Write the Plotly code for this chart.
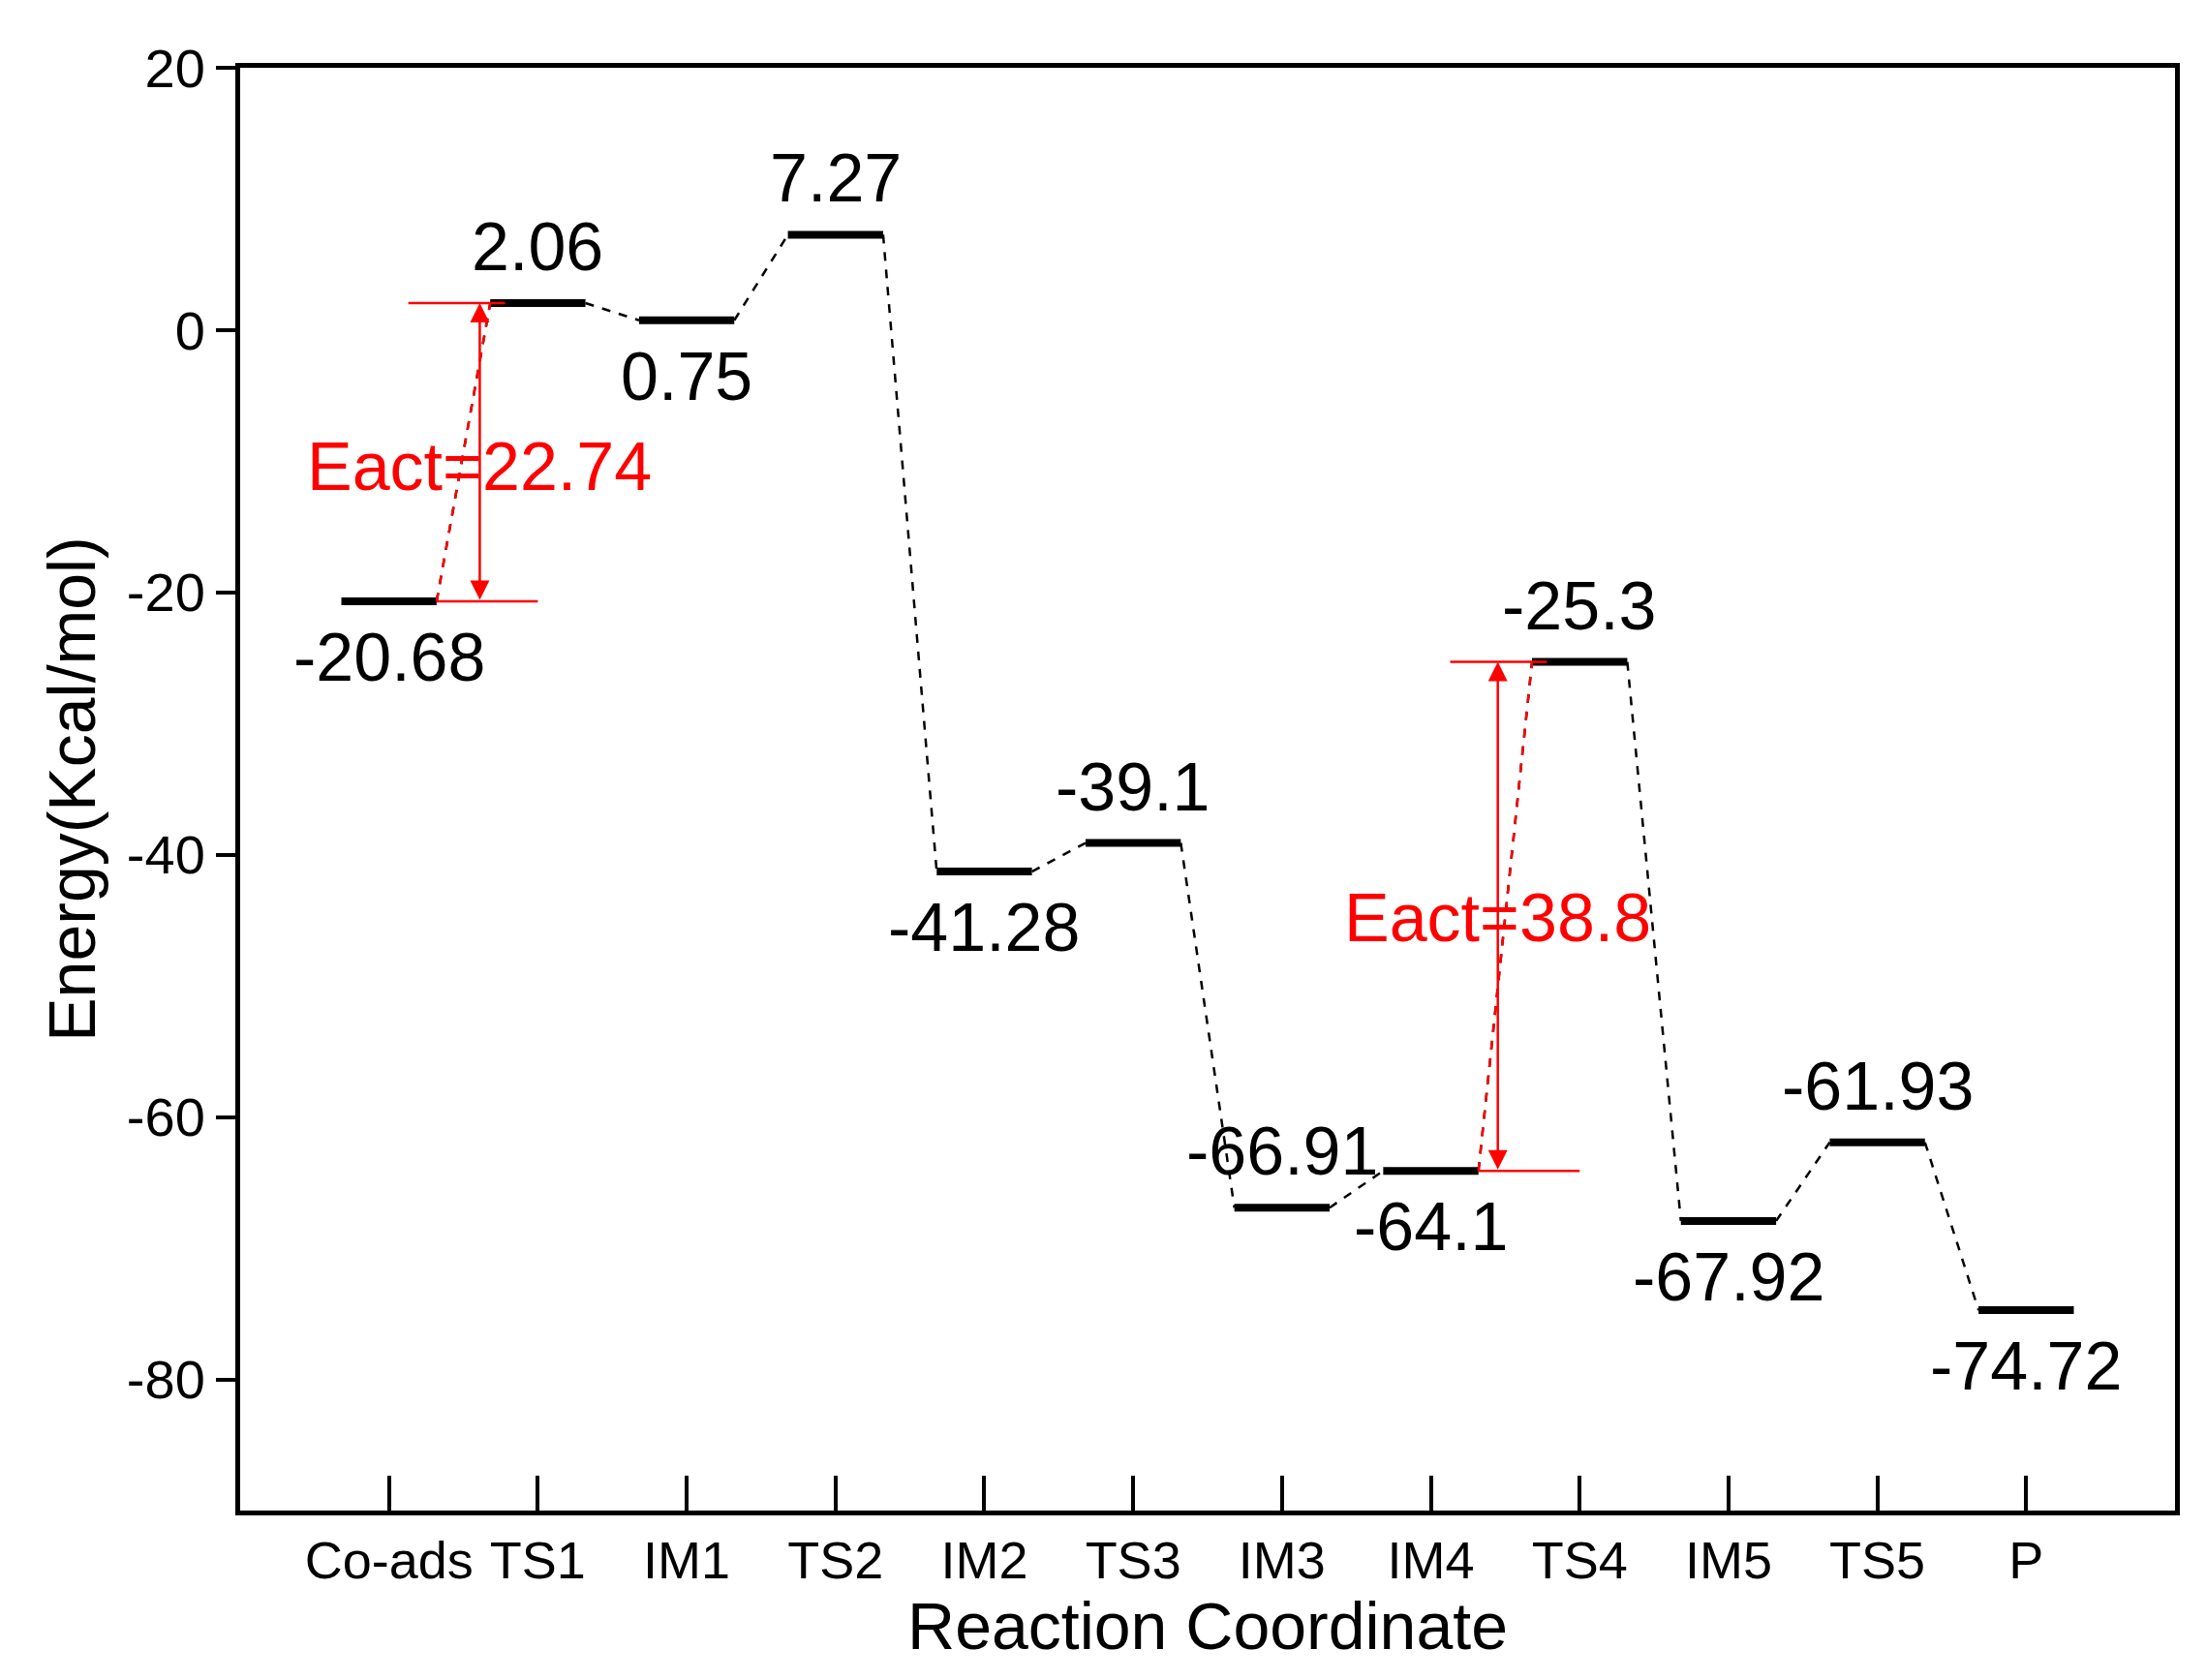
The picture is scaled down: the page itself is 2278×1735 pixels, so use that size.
import plotly.graph_objects as go

states = ["Co-ads","TS1","IM1","TS2","IM2","TS3","IM3","IM4","TS4","IM5","TS5","P"]
energies = [-20.68, 2.06, 0.75, 7.27, -41.28, -39.1, -66.91, -64.1, -25.3, -67.92, -61.93, -74.72]
labels = ["-20.68","2.06","0.75","7.27","-41.28","-39.1","-66.91","-64.1","-25.3","-67.92","-61.93","-74.72"]
label_side = [-1, 1, -1, 1, -1, 1, 1, -1, 1, -1, 1, -1]
yticks = [20, 0, -20, -40, -60, -80]
yticktext = ["20", "0", "-20", "-40", "-60", "-80"]
barrier1 = (0, 1, 22.74)
barrier2 = (7, 8, 38.8)

hw = 0.32
fig = go.Figure()
for i, e in enumerate(energies):
    fig.add_trace(go.Scatter(x=[i-hw, i+hw], y=[e, e], mode="lines",
                             line=dict(color="black", width=8), showlegend=False))
    if i < len(energies)-1:
        fig.add_trace(go.Scatter(x=[i+hw, i+1-hw], y=[e, energies[i+1]], mode="lines",
                                 line=dict(color="black", width=2.5, dash="dash"), showlegend=False))
    fig.add_annotation(x=i, y=e, text=labels[i], showarrow=False, yshift=58*label_side[i],
                       font=dict(size=70, color="black"))

for (a, b, ea), xa, ytxt in [(barrier1, 0.61, -10.4), (barrier2, 7.45, -44.8)]:
    lo, hi = energies[a], energies[b]
    fig.add_trace(go.Scatter(x=[a+hw, b-hw], y=[lo, hi], mode="lines",
                             line=dict(color="red", width=2.5, dash="dash"), showlegend=False))
    fig.add_trace(go.Scatter(x=[a+hw, a+hw+0.68], y=[lo, lo], mode="lines",
                             line=dict(color="red", width=2.5), showlegend=False))
    fig.add_trace(go.Scatter(x=[b-hw-0.55, b-hw+0.1], y=[hi, hi], mode="lines",
                             line=dict(color="red", width=2.5), showlegend=False))
    fig.add_annotation(x=xa, y=hi, ax=xa, ay=lo, xref="x", yref="y", axref="x", ayref="y",
                       showarrow=True, arrowhead=2, arrowside="end+start", arrowcolor="red",
                       arrowwidth=2.5, arrowsize=1.6, text="")
    fig.add_annotation(x=xa, y=ytxt, text=f"Eact={ea}", showarrow=False,
                       font=dict(size=70, color="red"))

fig.update_layout(
    width=2278, height=1735, paper_bgcolor="white", plot_bgcolor="white",
    margin=dict(l=240, r=40, t=62, b=183),
    font=dict(family="Liberation Sans, Arial", color="black"),
)
fig.update_xaxes(range=[-1, 12], tickvals=list(range(len(states))), ticktext=states,
                 ticks="inside", ticklen=36, tickwidth=4, tickcolor="black",
                 showline=True, linewidth=5, linecolor="black", mirror=True,
                 showgrid=False, zeroline=False, tickfont=dict(size=54),
                 title=dict(text="Reaction Coordinate", font=dict(size=68), standoff=2))
fig.update_yaxes(range=[-90, 20], tickvals=yticks, ticktext=yticktext, ticks="outside",
                 ticklen=20, tickwidth=4, tickcolor="black", showline=True, linewidth=5,
                 linecolor="black", mirror=True, showgrid=False, zeroline=False,
                 tickfont=dict(size=56),
                 title=dict(text="Energy(Kcal/mol)", font=dict(size=68), standoff=12))
fig.write_html("out.html")
